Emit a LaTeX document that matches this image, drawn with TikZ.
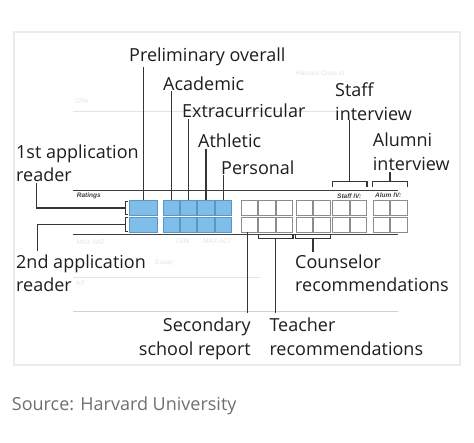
\documentclass[tikz,border=0pt]{standalone}
\usepackage{fontspec}
\usetikzlibrary{calc}
\setmainfont{Open Sans}
\newfontfamily\smallsans{Liberation Sans}
\definecolor{boxblue}{RGB}{128,190,234}
\definecolor{boxblueedge}{RGB}{92,150,200}
\definecolor{ink}{RGB}{30,30,30}
\definecolor{faint}{RGB}{228,228,228}
\definecolor{srcgray}{RGB}{112,112,112}
\tikzset{
  lbl/.style={inner sep=0pt, text=ink, font=\fontsize{18}{23}\selectfont},
  tiny/.style={inner sep=0pt, text=black!75, font=\smallsans\fontsize{6.5}{7}\selectfont\bfseries\itshape},
  ghost/.style={inner sep=0pt, text=faint, font=\smallsans\fontsize{6.5}{7}\selectfont},
  bluebox/.style={draw=boxblueedge, fill=boxblue, line width=0.9pt, minimum width=16.4pt, minimum height=14.6pt, inner sep=0pt, anchor=north west},
  whitebox/.style={draw=black!45, fill=white, line width=0.8pt, minimum width=16.4pt, minimum height=14.6pt, inner sep=0pt, anchor=north west},
  leader/.style={draw=ink!90, line width=1.2pt},
  rule/.style={draw=black!75, line width=1.1pt},
}
\begin{document}
\begin{tikzpicture}[x=1pt,y=-1pt]
\useasboundingbox (0,0) rectangle (474,442);
\fill[white] (0,0) rectangle (474,442);
% panel
\draw[draw=black!8, line width=1.2pt, fill=white] (14,32) rectangle (460,365);
% faint form lines
\draw[faint, line width=0.8pt] (73,111.7) -- (340,111.7);
\draw[faint, line width=0.8pt] (73,277.7) -- (260,277.7);
\draw[black!18, line width=0.9pt] (73,311.7) -- (398,311.7);
% faint form texts
\node[ghost, anchor=base west] (g1) at (75,103) {GPA};
\node[ghost, anchor=base west] (g2) at (296,75) {Harvard Class of};
\node[ghost, anchor=base west] (g3) at (76.7,244) {MAX SAT};
\node[ghost, anchor=base west] (g4) at (175,243) {TSW};
\node[ghost, anchor=base west] (g5) at (203,243) {MAX ACT};
\node[ghost, anchor=base west] (g6) at (155,264) {Essay};
\node[ghost, anchor=base west] (g7) at (76,285) {AP};
% rules
\coordinate (rt1) at (72.7,190.7);
\coordinate (rt2) at (398,190.7);
\coordinate (rb1) at (72.7,234.3);
\coordinate (rb2) at (398,234.3);
\draw[rule] (rt1) -- (rt2);
\draw[rule] (rb1) -- (rb2);
\node[tiny, anchor=base west] (ratings) at (76.7,197.5) {Ratings};
\node[tiny, anchor=base west] (staffiv) at (337,198.5) {Staff IV:};
\node[tiny, anchor=base west] (alumiv) at (375,197.5) {Alum IV:};
% blue boxes
\node[bluebox, minimum width=27.4pt] (p1) at (129.3,200.2) {};
\node[bluebox, minimum width=27.4pt] (p2) at (129.3,216.9) {};
\foreach \x [count=\i] in {162.5,179.9,197.3,214.7} {
  \node[bluebox] (a\i-1) at (\x,200.2) {};
  \node[bluebox] (a\i-2) at (\x,216.9) {};
}
\foreach \x [count=\i] in {241,258.4,275.8,295.7,313.1,332.3,349.7,372.7,390.1} {
  \node[whitebox] (w\i-1) at (\x,200.2) {};
  \node[whitebox] (w\i-2) at (\x,216.9) {};
}
% top labels
\node[lbl, anchor=base west] (pre) at (129,61) {Preliminary overall};
\node[lbl, anchor=base west] (acad) at (163,90) {Academic};
\node[lbl, anchor=base west] (extra) at (182,117.7) {Extracurricular};
\node[lbl, anchor=base west] (ath) at (198,147.3) {Athletic};
\node[lbl, anchor=base west] (pers) at (221,174) {Personal};
\draw[leader, shorten <=1pt] (pre.south -| p1.north) -- (p1.north);
\draw[leader, shorten <=1pt] (acad.south -| a1-1.north) -- (a1-1.north);
\draw[leader, shorten <=1pt] (extra.south -| a2-1.north) -- (a2-1.north);
\draw[leader, shorten <=1pt] (ath.south -| a3-1.north) -- (a3-1.north);
\draw[leader, shorten <=1pt] (pers.south -| a4-1.north) -- (a4-1.north);
% readers
\node[lbl, anchor=base west] (r1a) at (16,158.3) {1st application};
\node[lbl, anchor=base west] (r1b) at (16,181.7) {reader};
\node[lbl, anchor=base west] (r2a) at (16,268.3) {2nd application};
\node[lbl, anchor=base west] (r2b) at (16,291.7) {reader};
\coordinate (br1) at ([xshift=-4pt]p1.west);
\coordinate (br2) at ([xshift=-4pt]p2.west);
\draw[leader, line width=1pt] ([xshift=-1.5pt,yshift=-1pt]p1.north west) -- ([yshift=-1pt]br1 |- p1.north) -- ([yshift=1pt]br1 |- p1.south) -- ([xshift=-1.5pt,yshift=1pt]p1.south west);
\draw[leader, line width=1pt] ([xshift=-1.5pt,yshift=-1pt]p2.north west) -- ([yshift=-1pt]br2 |- p2.north) -- ([yshift=1pt]br2 |- p2.south) -- ([xshift=-1.5pt,yshift=1pt]p2.south west);
\coordinate (e1) at (36.5,0);
\coordinate (e2) at (37.5,0);
\draw[leader] (br1) -- (br1 -| e1) -- ([yshift=-1pt]e1 |- r1b.south);
\draw[leader] (br2) -- (br2 -| e2) -- ([yshift=3pt]e2 |- r2a.north);
% interviews
\node[lbl, anchor=base west] (sa) at (335,96) {Staff};
\node[lbl, anchor=base west] (sb) at (335,120) {interview};
\node[lbl, anchor=base west] (aa) at (372.7,146) {Alumni};
\node[lbl, anchor=base west] (ab) at (372.7,170) {interview};
\coordinate (sbl) at ([yshift=19pt]w6-1.north west);
\coordinate (sbr) at ([yshift=19pt]w7-1.north east);
\draw[leader] ([yshift=-6pt]sbl) -- (sbl) -- (sbr) -- ([yshift=-6pt]sbr);
\coordinate (sbm) at ($(sbl)!0.5!(sbr)$);
\draw[leader] (sbm) -- ([yshift=0pt]sbm |- sb.south);
\coordinate (abl) at ([yshift=19pt]w8-1.north west);
\coordinate (abr) at ([yshift=19pt]w9-1.north east);
\draw[leader] ([yshift=-6pt]abl) -- (abl) -- (abr) -- ([yshift=-6pt]abr);
\coordinate (abm) at ($(abl)!0.5!(abr)$);
\draw[leader] (abm) -- ([yshift=-2pt]abm |- ab.south);
% bottom labels
\node[lbl, anchor=base west] (ca) at (295,268.3) {Counselor};
\node[lbl, anchor=base west] (cb) at (295,291.7) {recommendations};
\node[lbl, anchor=base west] (ta) at (269.3,331.7) {Teacher};
\node[lbl, anchor=base west] (tb) at (269.3,355) {recommendations};
\node[lbl, anchor=base east] (ssa) at (251,331.7) {Secondary};
\node[lbl, anchor=base east] (ssb) at (251,355) {school report};
\coordinate (cbl) at ([yshift=-6.5pt]w4-2.south west);
\coordinate (cbr) at ([yshift=-6.5pt]w5-2.south east);
\draw[leader] ([yshift=5pt]cbl) -- (cbl) -- (cbr) -- ([yshift=5pt]cbr);
\coordinate (cbm) at ($(cbl)!0.5!(cbr)$);
\draw[leader] (cbm) -- ([yshift=2pt]cbm |- ca.north);
\coordinate (tbl) at ([yshift=-6.5pt]w2-2.south west);
\coordinate (tbr) at ([yshift=-6.5pt]w3-2.south east);
\draw[leader] ([yshift=5pt]tbl) -- (tbl) -- (tbr) -- ([yshift=5pt]tbr);
\coordinate (tbm) at ($(tbl)!0.5!(tbr)$);
\draw[leader] (tbm) -- ([yshift=5pt]tbm |- ta.north);
\coordinate (ssx) at ([xshift=-1.8pt]w1-2.south);
\draw[leader] (ssx) -- ([yshift=5pt]ssx |- ssa.north);
% source
\node[lbl, anchor=base west, text=srcgray] (src) at (11.7,410) {Source: Harvard University};
\end{tikzpicture}
\end{document}
